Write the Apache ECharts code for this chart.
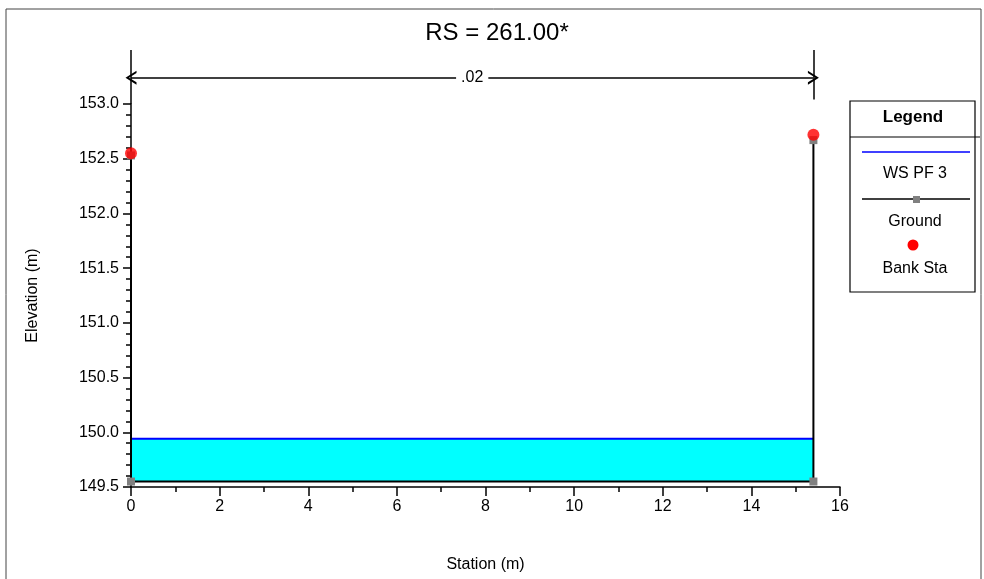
<!DOCTYPE html>
<html>
<head>
<meta charset="utf-8">
<script src="https://cdn.jsdelivr.net/npm/echarts@6/dist/echarts.min.js"></script>
<style>
html,body{margin:0;padding:0;background:#fff;}
#chart{width:984px;height:579px;}
</style>
</head>
<body>
<div id="chart"></div>
<script>
// ---- data ----
const titleText = 'RS = 261.00*';
const wsName = 'WS PF 3';
const groundName = 'Ground';
const bankName = 'Bank Sta';
const wsData = [[0, 149.94], [15.4, 149.94]];
const groundData = [[0, 152.53], [0, 149.55], [15.4, 149.55], [15.4, 152.67]];
const bankData = [[0, 152.55], [15.4, 152.72]];
const groundBottom = 149.55;
const nValueLabel = '.02';
const nStations = [0, 15.4];
const nArrowElev = 153.24;
const nTopElev = 153.493;
const nRightLowElev = 153.04;
const xTicks = [0, 16, 2];
const yTicks = [149.5, 153.0, 0.5];

const FONT = 'Liberation Sans, Arial, sans-serif';
const chart = echarts.init(document.getElementById('chart'), null, {renderer: 'canvas'});

const chevron = 'path://M5,0 L10,10 L8.3,10 L5,3.2 L1.7,10 L0,10 Z';

const option = {
  animation: false,
  backgroundColor: '#fff',
  title: {
    text: titleText,
    left: 492, top: 16,
    textAlign: 'center',
    textStyle: {fontFamily: FONT, fontSize: 24, fontWeight: 'normal', color: '#000'}
  },
  grid: [
    {left: 131, right: 144, top: 104, bottom: 92, containLabel: false},
    {left: 131, right: 144, top: 50, bottom: 92, containLabel: false}
  ],
  xAxis: [{
    type: 'value', gridIndex: 0,
    min: xTicks[0], max: xTicks[1], interval: xTicks[2],
    name: 'Station (m)',
    nameLocation: 'middle',
    nameGap: 70,
    nameTextStyle: {fontFamily: FONT, fontSize: 16, color: '#000'},
    axisLine: {show: true, onZero: false, lineStyle: {color: '#000', width: 1.5}},
    axisTick: {show: true, inside: false, length: 9, lineStyle: {color: '#000', width: 1.5}},
    minorTick: {show: true, splitNumber: 2, length: 5, lineStyle: {color: '#000', width: 1.5}},
    axisLabel: {fontFamily: FONT, fontSize: 16, color: '#000', margin: 12},
    splitLine: {show: false}
  }, {
    type: 'value', gridIndex: 1, show: false,
    min: xTicks[0], max: xTicks[1]
  }],
  yAxis: [{
    type: 'value', gridIndex: 0,
    min: yTicks[0], max: yTicks[1], interval: yTicks[2],
    name: 'Elevation (m)',
    nameLocation: 'middle',
    nameGap: 90,
    nameTextStyle: {fontFamily: FONT, fontSize: 16, color: '#000'},
    axisLine: {show: true, onZero: false, lineStyle: {color: '#000', width: 1.5}},
    axisTick: {show: true, length: 8, lineStyle: {color: '#000', width: 1.5}},
    minorTick: {show: true, splitNumber: 5, length: 5, lineStyle: {color: '#000', width: 1.5}},
    axisLabel: {fontFamily: FONT, fontSize: 16, color: '#000', margin: 12,
      formatter: v => v.toFixed(1)},
    splitLine: {show: false}
  }, {
    type: 'value', gridIndex: 1, show: false,
    min: yTicks[0], max: nTopElev
  }],
  series: [
    {
      name: wsName, type: 'line', data: wsData,
      symbol: 'none', z: 2,
      lineStyle: {color: '#0000FF', width: 2},
      areaStyle: {color: '#00FFFF', opacity: 1, origin: groundBottom}
    },
    {
      name: groundName, type: 'line', data: groundData,
      symbol: 'rect', symbolSize: 8, showAllSymbol: true, z: 3,
      lineStyle: {color: '#000', width: 2},
      itemStyle: {color: '#808080'}
    },
    {
      name: bankName, type: 'scatter', data: bankData,
      symbol: 'circle', symbolSize: 12, z: 4,
      itemStyle: {color: '#FF0000'}
    },
    {
      name: 'n-values', type: 'line', xAxisIndex: 1, yAxisIndex: 1,
      data: [[nStations[0], nTopElev]], symbol: 'none', silent: true,
      lineStyle: {opacity: 0},
      markLine: {
        silent: true, animation: false,
        lineStyle: {color: '#000', width: 1.5, type: 'solid'},
        label: {show: false},
        data: [
          [
            {coord: [nStations[0], nArrowElev], symbol: chevron, symbolSize: [14, 11]},
            {coord: [nStations[1], nArrowElev], symbol: chevron, symbolSize: [14, 11],
             label: {show: true, position: 'middle', formatter: nValueLabel,
                     distance: 0, verticalAlign: 'middle',
                     fontFamily: FONT, fontSize: 16, color: '#000',
                     backgroundColor: '#fff', padding: [2, 5]}}
          ],
          [
            {coord: [nStations[0], yTicks[1]], symbol: 'none'},
            {coord: [nStations[0], nTopElev], symbol: 'none'}
          ],
          [
            {coord: [nStations[1], nRightLowElev], symbol: 'none'},
            {coord: [nStations[1], nTopElev], symbol: 'none'}
          ]
        ]
      }
    }
  ],
  graphic: [
    {type: 'rect', shape: {x: 6, y: 9, width: 975, height: 600}, silent: true,
     style: {fill: null, stroke: '#444', lineWidth: 1}, z: -1},
    // legend box
    {type: 'rect', shape: {x: 850, y: 101, width: 125, height: 191},
     style: {fill: '#fff', stroke: '#000', lineWidth: 1.2}, z: 10},
    {type: 'text', x: 913, y: 117, z: 11,
     style: {text: 'Legend', font: 'bold 17px ' + FONT, fill: '#000', textAlign: 'center', textVerticalAlign: 'middle'}},
    {type: 'line', shape: {x1: 850, y1: 137, x2: 980, y2: 137}, z: 11,
     style: {stroke: '#000', lineWidth: 1.2}},
    {type: 'line', shape: {x1: 862, y1: 152, x2: 970, y2: 152}, z: 11,
     style: {stroke: '#0000FF', lineWidth: 1.5}},
    {type: 'text', x: 915, y: 174, z: 11,
     style: {text: wsName, font: '16px ' + FONT, fill: '#000', textAlign: 'center', textVerticalAlign: 'middle'}},
    {type: 'line', shape: {x1: 862, y1: 199, x2: 970, y2: 199}, z: 11,
     style: {stroke: '#000', lineWidth: 1.5}},
    {type: 'rect', shape: {x: 913, y: 196, width: 7, height: 7}, z: 12,
     style: {fill: '#808080'}},
    {type: 'text', x: 915, y: 222, z: 11,
     style: {text: groundName, font: '16px ' + FONT, fill: '#000', textAlign: 'center', textVerticalAlign: 'middle'}},
    {type: 'circle', shape: {cx: 913, cy: 245, r: 5.5}, z: 11,
     style: {fill: '#FF0000'}},
    {type: 'text', x: 915, y: 269, z: 11,
     style: {text: bankName, font: '16px ' + FONT, fill: '#000', textAlign: 'center', textVerticalAlign: 'middle'}}
  ]
};
chart.setOption(option);
</script>
</body>
</html>
